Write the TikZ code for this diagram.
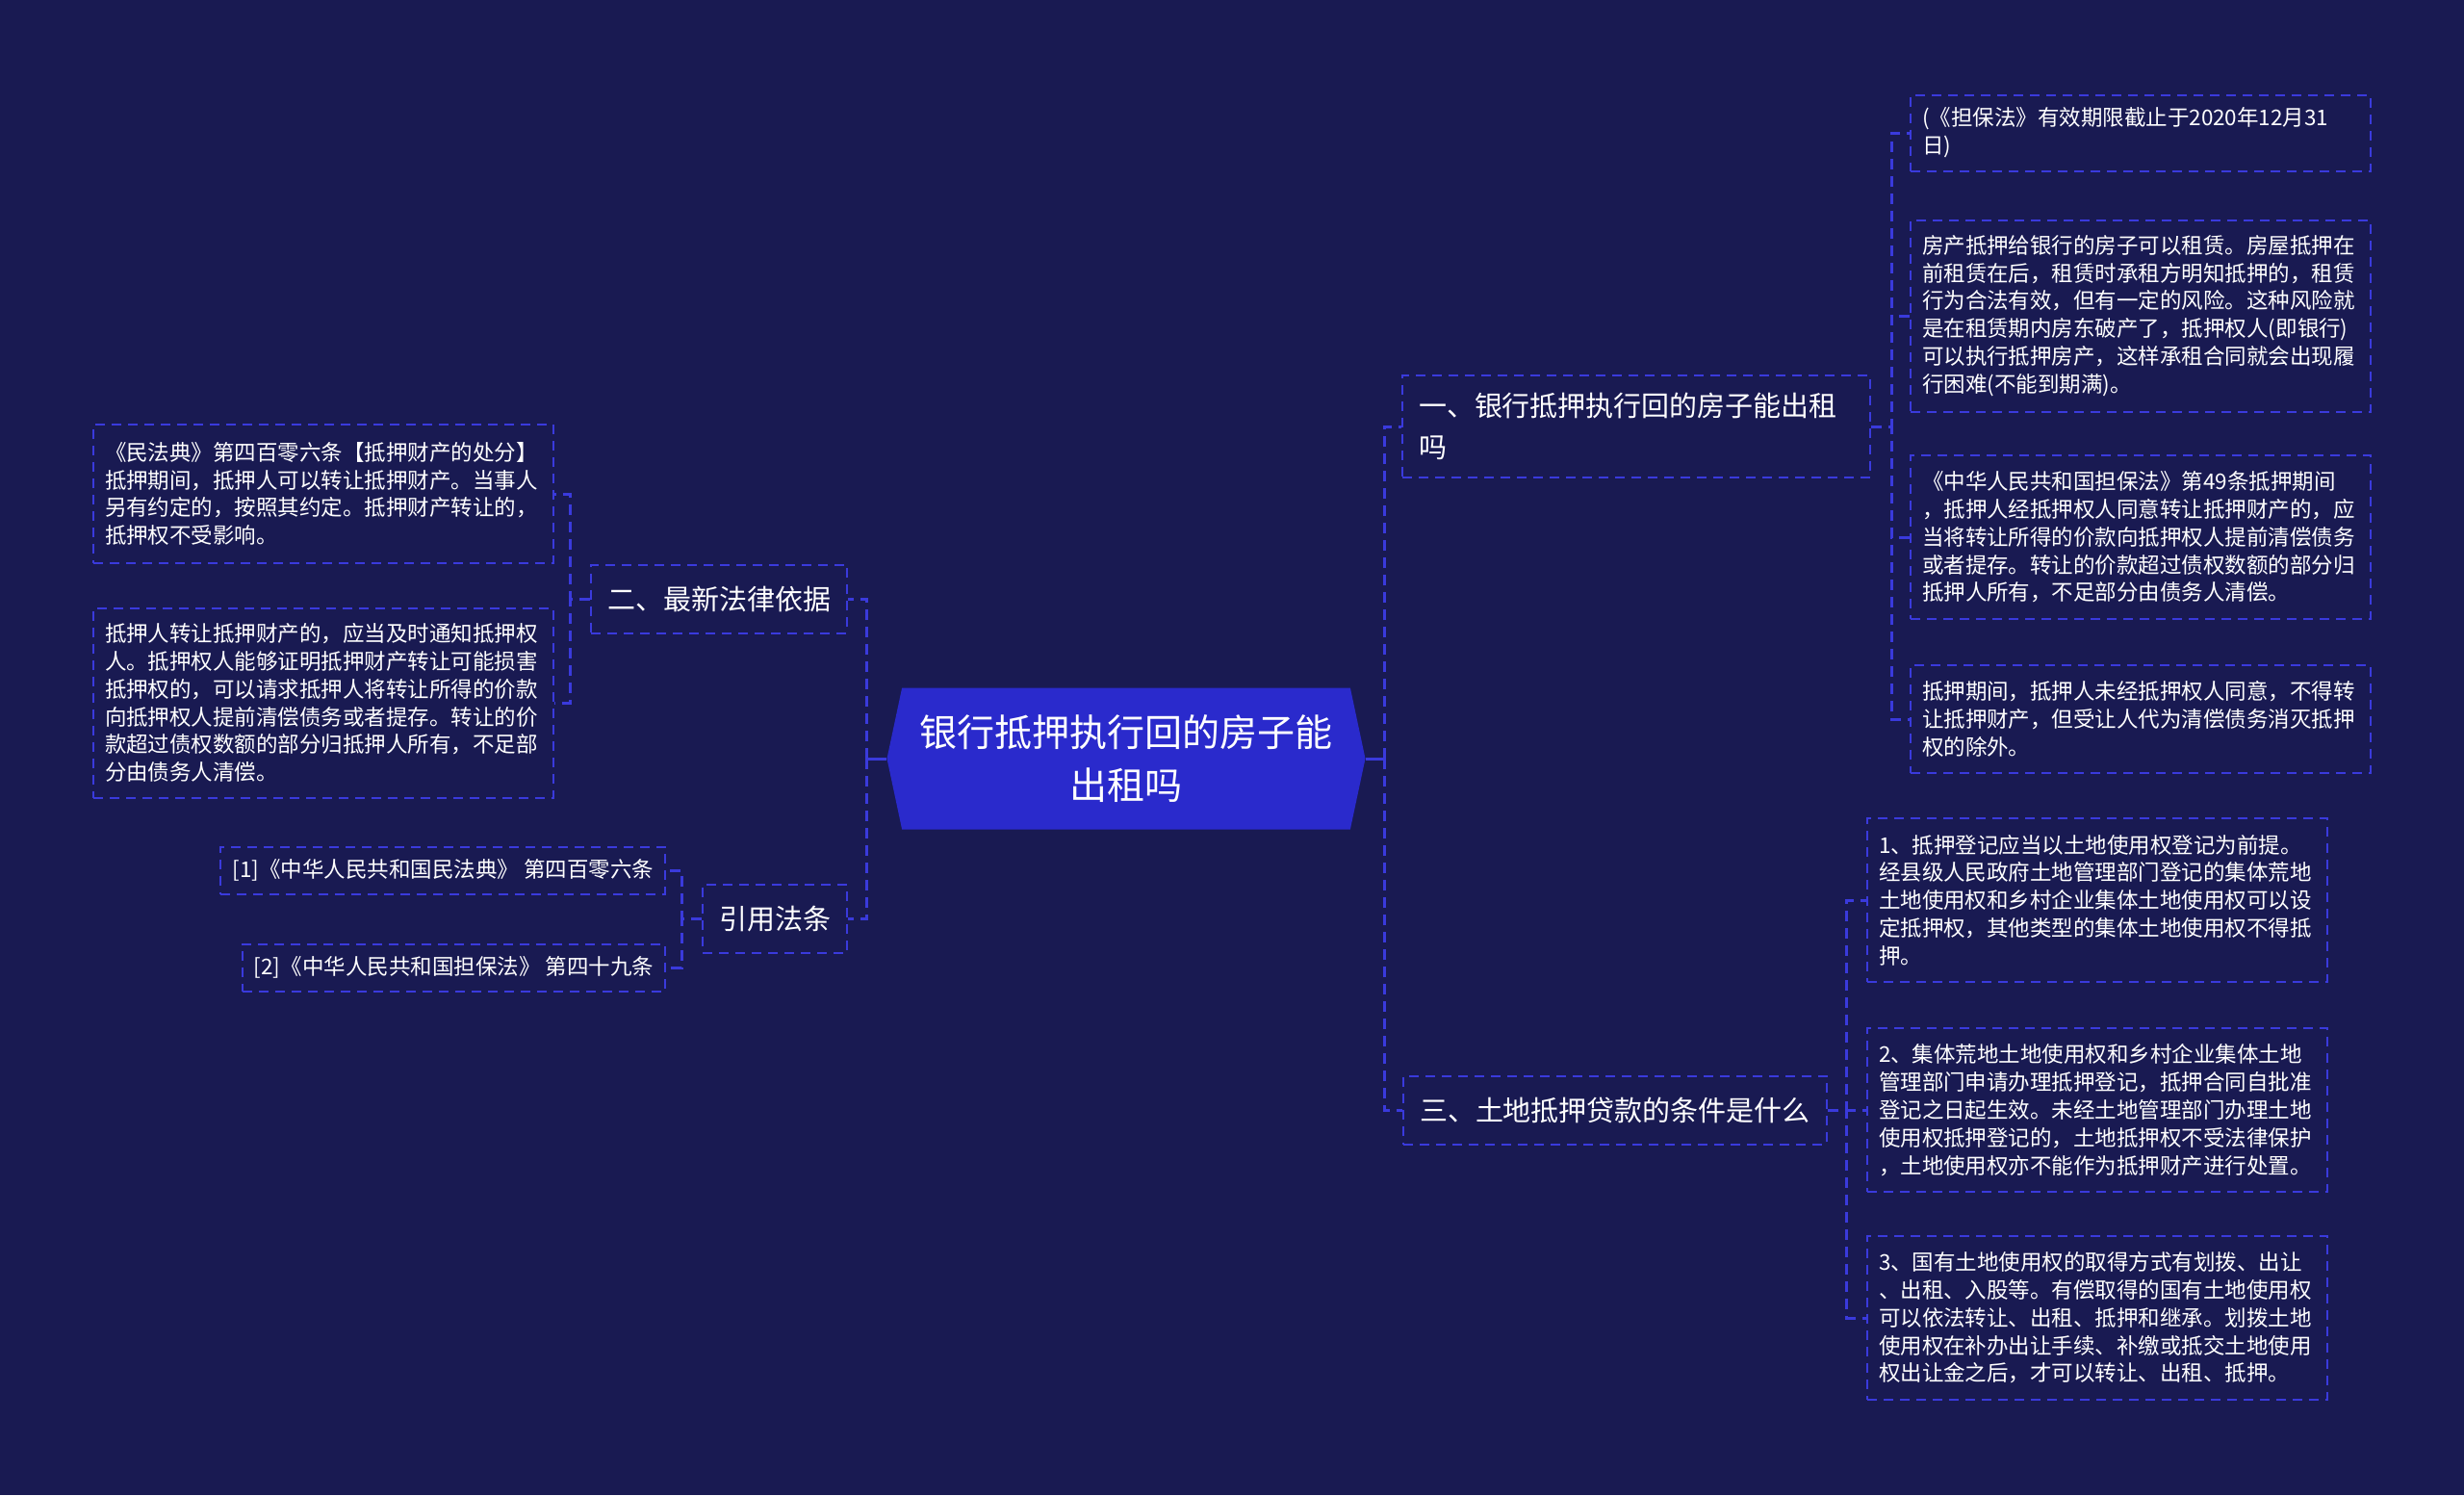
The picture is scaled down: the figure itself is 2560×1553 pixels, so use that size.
\documentclass[tikz,border=0pt]{standalone}
\usepackage{fontspec}
\setmainfont{Noto Sans CJK SC}
\usetikzlibrary{shapes.symbols}
\definecolor{bgnavy}{RGB}{25,26,82}
\definecolor{rootblue}{RGB}{42,42,204}
\definecolor{dashblue}{RGB}{58,58,220}

\begin{document}
\begin{tikzpicture}[x=0.1mm, y=-0.1mm,
    root/.style={shape=signal, signal to=east and west, signal pointer angle=156, fill=rootblue, text=white, align=center, minimum width=49.7mm, minimum height=14.7mm, inner sep=0pt, font=\fontsize{11.1pt}{15.6pt}\selectfont},
    branch/.style={draw=dashblue, dash pattern=on 1mm off 0.7mm, line width=0.2mm, text=white, align=left, inner xsep=1.7mm, inner ysep=0pt, minimum height=7.1mm, font=\fontsize{8.25pt}{12.2pt}\selectfont},
    leaf/.style={draw=dashblue, dash pattern=on 1mm off 0.7mm, line width=0.2mm, text=white, align=left, text width=45.4mm, inner xsep=1.2mm, inner ysep=0pt, font=\fontsize{6.4pt}{8.2pt}\selectfont},
    ref/.style={draw=dashblue, dash pattern=on 1mm off 0.7mm, line width=0.2mm, text=white, inner xsep=1.2mm, inner ysep=0pt, minimum height=4.9mm, font=\fontsize{6.4pt}{8.2pt}\selectfont},
    stub/.style={draw=dashblue, line width=0.3mm},
    link/.style={draw=dashblue, line width=0.3mm, dash pattern=on 1.1mm off 0.7mm}
]
\fill[bgnavy] (0,0) rectangle (2560,1553);

\node[root] (root) at (1170,788) {银行抵押执行回的房子能\\出租吗};

\node[branch, text width=45.2mm, minimum height=10.6mm] (rent) at (1700,443) {一、银行抵押执行回的房子能出租\\吗};
\node[branch, anchor=west] (land) at (1457,1153) {三、土地抵押贷款的条件是什么};
\node[branch, anchor=east] (basis) at (881,622) {二、最新法律依据};
\node[branch, anchor=east] (cite) at (881,954) {引用法条};

\node[leaf, minimum height=7.9mm] (r1) at (2224,138) {(《担保法》有效期限截止于2020年12月31\\日)};
\node[leaf, minimum height=19.9mm] (r2) at (2224,328) {房产抵押给银行的房子可以租赁。房屋抵押在\\前租赁在后，租赁时承租方明知抵押的，租赁\\行为合法有效，但有一定的风险。这种风险就\\是在租赁期内房东破产了，抵押权人(即银行)\\可以执行抵押房产，这样承租合同就会出现履\\行困难(不能到期满)。};
\node[leaf, minimum height=17mm] (r3) at (2224,558) {《中华人民共和国担保法》第49条抵押期间\\，抵押人经抵押权人同意转让抵押财产的，应\\当将转让所得的价款向抵押权人提前清偿债务\\或者提存。转让的价款超过债权数额的部分归\\抵押人所有，不足部分由债务人清偿。};
\node[leaf, minimum height=11.2mm] (r4) at (2224,747) {抵押期间，抵押人未经抵押权人同意，不得转\\让抵押财产，但受让人代为清偿债务消灭抵押\\权的除外。};

\node[leaf, minimum height=17mm] (l1) at (2179,935) {1、抵押登记应当以土地使用权登记为前提。\\经县级人民政府土地管理部门登记的集体荒地\\土地使用权和乡村企业集体土地使用权可以设\\定抵押权，其他类型的集体土地使用权不得抵\\押。};
\node[leaf, minimum height=17mm] (l2) at (2179,1153) {2、集体荒地土地使用权和乡村企业集体土地\\管理部门申请办理抵押登记，抵押合同自批准\\登记之日起生效。未经土地管理部门办理土地\\使用权抵押登记的，土地抵押权不受法律保护\\，土地使用权亦不能作为抵押财产进行处置。};
\node[leaf, minimum height=17mm] (l3) at (2179,1369) {3、国有土地使用权的取得方式有划拨、出让\\、出租、入股等。有偿取得的国有土地使用权\\可以依法转让、出租、抵押和继承。划拨土地\\使用权在补办出让手续、补缴或抵交土地使用\\权出让金之后，才可以转让、出租、抵押。};

\node[leaf, minimum height=14.4mm] (b1) at (336,513) {《民法典》第四百零六条【抵押财产的处分】\\抵押期间，抵押人可以转让抵押财产。当事人\\另有约定的，按照其约定。抵押财产转让的，\\抵押权不受影响。};
\node[leaf, minimum height=19.7mm] (b2) at (336,730) {抵押人转让抵押财产的，应当及时通知抵押权\\人。抵押权人能够证明抵押财产转让可能损害\\抵押权的，可以请求抵押人将转让所得的价款\\向抵押权人提前清偿债务或者提存。转让的价\\款超过债权数额的部分归抵押人所有，不足部\\分由债务人清偿。};

\node[ref, anchor=east] (c1) at (692,904) {[1]《中华人民共和国民法典》 第四百零六条};
\node[ref, anchor=east] (c2) at (692,1005) {[2]《中华人民共和国担保法》 第四十九条};

\draw[stub] (root.east) -- ++(19,0);
\draw[stub] (root.west) -- ++(-20,0);
\foreach \n in {rent,land} \draw[link] (root.east) ++(19,0) |- (\n.west);
\foreach \n in {basis,cite} \draw[link] (root.west) ++(-20,0) |- (\n.east);
\foreach \n in {r1,r2,r3,r4} \draw[link] (rent.east) -- ++(21,0) |- (\n.west);
\foreach \n in {l1,l2,l3} \draw[link] (land.east) -- ++(20,0) |- (\n.west);
\foreach \n in {b1,b2} \draw[link] (basis.west) -- ++(-21,0) |- (\n.east);
\foreach \n in {c1,c2} \draw[link] (cite.west) -- ++(-21,0) |- (\n.east);
\end{tikzpicture}
\end{document}
